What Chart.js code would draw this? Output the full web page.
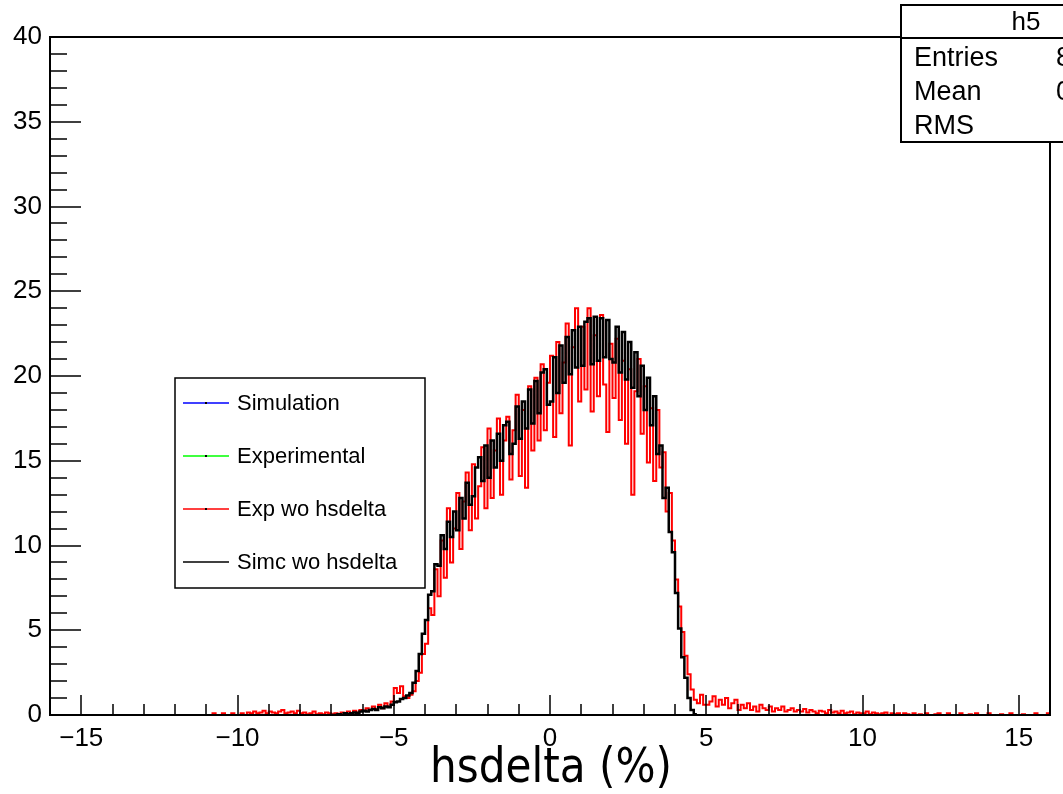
<!DOCTYPE html>
<html>
<head>
<meta charset="utf-8">
<script src="https://cdn.jsdelivr.net/npm/chart.js@4.4.1/dist/chart.umd.min.js"></script>
<style>
  html, body { margin: 0; padding: 0; background: #fff; }
  canvas { display: block; }
</style>
</head>
<body>
<canvas id="c" width="1063" height="794"></canvas>
<script>
// histogram binning (hsdelta in %)
const binWidth = 0.1;

// "Simc wo hsdelta" - counts per bin, first bin starts at simcStart
const simcStart = -7.0;
const simcCounts = [
  0, 0, 0.05, 0, 0.1, 0.05, 0.1, 0.15, 0.1, 0.2,
  0.25, 0.2, 0.3, 0.35, 0.3, 0.45, 0.4, 0.5, 0.45, 0.6,
  0.75, 0.8, 0.95, 1.0, 1.15, 1.3, 1.9, 2.6, 3.6, 4.8,
  5.6, 7.1, 7.3, 8.9, 8.8, 10.6, 9.8, 11.4, 10.5, 12.0,
  10.9, 12.8, 11.6, 13.7, 12.4, 12.9, 14.6, 15.2, 13.8, 15.9,
  14.0, 16.2, 14.6, 16.6, 15.0, 17.1, 17.3, 15.4, 16.0, 18.2,
  16.3, 18.5, 16.9, 19.2, 17.2, 19.7, 17.8, 20.2, 20.4, 18.3,
  18.5, 21.1, 19.0, 21.8, 19.6, 22.3, 20.1, 22.7, 20.5, 22.9,
  20.6, 23.2, 23.4, 20.7, 23.5, 20.9, 23.4, 21.1, 23.3, 21.0,
  20.8, 22.9, 20.2, 22.6, 19.8, 22.0, 19.3, 21.4, 18.8, 20.6,
  18.0, 19.9, 17.1, 18.8, 15.4, 15.9, 12.8, 13.4, 10.8, 9.6,
  7.2, 5.1, 3.4, 2.2, 1.0, 0.3, 0.05
];

// "Exp wo hsdelta" - counts per bin, first bin starts at expStart
const expStart = -11.0;
const expCounts = [
  0, 0, 0.1, 0, 0, 0.1, 0, 0, 0.1, 0,
  0, 0.1, 0, 0.15, 0.1, 0.2, 0.1, 0.15, 0.25, 0.1,
  0.2, 0.15, 0.1, 0.2, 0.3, 0.1, 0.15, 0.2, 0.1, 0.25,
  0.1, 0.15, 0.05, 0.1, 0.2, 0.05, 0.1, 0.05, 0.15, 0.1,
  0.05, 0.1, 0, 0.15, 0.1, 0.2, 0.1, 0.25, 0.15, 0.3,
  0.25, 0.4, 0.3, 0.5, 0.35, 0.6, 0.4, 0.7, 0.5, 0.8,
  1.6, 1.3, 1.7, 1.1, 1.0, 1.2, 1.4, 2.0, 2.5, 3.6,
  4.2, 6.3, 5.9, 8.6, 7.0, 10.3, 8.1, 12.2, 9.0, 11.0,
  13.1, 9.8, 12.6, 14.3, 10.9, 14.8, 11.6, 13.5, 15.8, 12.2,
  16.9, 12.8, 15.6, 17.5, 13.0, 16.2, 17.6, 13.9, 16.8, 18.9,
  14.1, 18.0, 13.4, 19.4, 15.6, 19.9, 16.2, 20.7, 16.8, 19.6,
  21.2, 16.4, 22.0, 17.8, 20.8, 23.1, 15.9, 21.7, 24.0, 18.5,
  22.9, 19.2, 24.0, 17.9, 22.4, 18.8, 23.6, 19.5, 16.7, 21.9,
  18.7, 22.2, 17.4, 20.9, 16.0, 20.4, 13.0, 19.1, 21.0, 16.6,
  19.4, 14.9, 18.1, 13.8, 18.0, 14.6, 15.5, 12.0, 13.1, 10.3,
  8.0, 6.4, 4.9, 3.5, 2.4, 1.5, 0.9, 0.7, 1.2, 0.6,
  0.6, 0.8, 1.1, 0.5, 0.9, 0.6, 1.0, 0.4, 0.7, 0.9,
  0.3, 0.6, 0.4, 0.7, 0.3, 0.5, 0.2, 0.6, 0.4, 0.3,
  0.5, 0.2, 0.4, 0.3, 0.5, 0.2, 0.3, 0.4, 0.2, 0.3,
  0.2, 0.35, 0.15, 0.3, 0.2, 0.1, 0.25, 0.2, 0.1, 0.3,
  0.15, 0.2, 0.1, 0.25, 0.1, 0.15, 0.2, 0.05, 0.15, 0.1,
  0.1, 0.2, 0.05, 0.15, 0.1, 0.05, 0.1, 0.15, 0, 0.1,
  0.05, 0.1, 0, 0.1, 0.05, 0, 0.1, 0, 0.05, 0,
  0.1, 0, 0, 0.05, 0.1, 0, 0, 0.1, 0, 0,
  0, 0.1, 0, 0, 0.05, 0, 0.1, 0, 0, 0,
  0.1, 0, 0, 0, 0.05, 0, 0, 0.1, 0, 0,
  0, 0.05, 0, 0, 0, 0.1, 0, 0, 0, 0.1
];

const xRange = [-16, 16];
const yRange = [0, 40];
const xTickValues = [-15, -10, -5, 0, 5, 10, 15];
const yTickValues = [0, 5, 10, 15, 20, 25, 30, 35, 40];
const majorEvery = 5;

const seriesLabels = ['Simulation', 'Experimental', 'Exp wo hsdelta', 'Simc wo hsdelta'];
const seriesColors = ['#0000ff', '#00ff00', '#ff0000', '#000000'];
const seriesMarker = [true, true, true, false];

const statsTitle = 'h5';
const statsNames = ['Entries', 'Mean', 'RMS'];
const statsValues = ['82415', '0.5012', '2.876'];
const xTitle = 'hsdelta (%)';

const FONT = '"Liberation Sans", Arial, Helvetica, sans-serif';

function histPoints(start, counts) {
  const pts = counts.map((v, i) => ({ x: start + i * binWidth, y: v }));
  pts.push({ x: start + counts.length * binWidth, y: counts[counts.length - 1] });
  return pts;
}

// ROOT-like frame: inward ticks, legend box, stats box, axis title
const rootFrame = {
  id: 'rootFrame',
  afterDatasetsDraw(chart) {
    const { ctx, chartArea: a, scales: { x, y } } = chart;
    ctx.save();
    ctx.strokeStyle = '#000';
    ctx.lineWidth = 2;
    ctx.strokeRect(a.left, a.top, a.right - a.left, a.bottom - a.top);
    ctx.lineWidth = 1.5;
    ctx.beginPath();
    for (let v = Math.ceil(x.min); v <= x.max; v++) {
      const px = Math.round(x.getPixelForValue(v));
      const len = v % majorEvery === 0 ? 20 : 11;
      ctx.moveTo(px, a.bottom);
      ctx.lineTo(px, a.bottom - len);
    }
    for (let v = Math.ceil(y.min); v <= y.max; v++) {
      const py = Math.round(y.getPixelForValue(v));
      const len = v % majorEvery === 0 ? 31 : 17;
      ctx.moveTo(a.left, py);
      ctx.lineTo(a.left + len, py);
    }
    ctx.stroke();
    ctx.restore();
  },
  afterDraw(chart) {
    const { ctx } = chart;
    ctx.save();

    // legend
    ctx.fillStyle = '#fff';
    ctx.fillRect(175, 378, 250, 210);
    ctx.strokeStyle = '#000';
    ctx.lineWidth = 1.5;
    ctx.strokeRect(175, 378, 250, 210);
    ctx.font = '22px ' + FONT;
    ctx.textBaseline = 'middle';
    ctx.textAlign = 'left';
    seriesLabels.forEach((label, i) => {
      const yy = 403 + i * 53;
      ctx.strokeStyle = seriesColors[i];
      ctx.lineWidth = 1.5;
      ctx.beginPath();
      ctx.moveTo(183, yy);
      ctx.lineTo(229, yy);
      ctx.stroke();
      if (seriesMarker[i]) {
        ctx.fillStyle = '#000';
        ctx.fillRect(205, yy - 1, 2, 2);
      }
      ctx.fillStyle = '#000';
      ctx.fillText(label, 237, yy + 1);
    });

    // stats box
    ctx.fillStyle = '#fff';
    ctx.fillRect(901, 5, 180, 137);
    ctx.strokeStyle = '#000';
    ctx.lineWidth = 2;
    ctx.strokeRect(901, 5, 180, 137);
    ctx.beginPath();
    ctx.moveTo(901, 38);
    ctx.lineTo(1063, 38);
    ctx.stroke();
    ctx.fillStyle = '#000';
    ctx.font = '26px ' + FONT;
    ctx.textAlign = 'center';
    ctx.fillText(statsTitle, 1026, 23);
    ctx.font = '27px ' + FONT;
    ctx.textAlign = 'left';
    statsNames.forEach((name, i) => {
      const yy = 59 + i * 34;
      ctx.fillText(name, 914, yy);
      if (i < 2) ctx.fillText(statsValues[i], 1056, yy);
    });

    // x axis title
    ctx.font = '48px "DejaVu Sans", sans-serif';
    ctx.textBaseline = 'alphabetic';
    ctx.textAlign = 'center';
    const w = ctx.measureText(xTitle).width;
    ctx.translate(551, 782);
    ctx.scale(242 / w, 1);
    ctx.fillText(xTitle, 0, 0);
    ctx.restore();
  }
};

new Chart(document.getElementById('c'), {
  type: 'line',
  data: {
    datasets: [
      { label: seriesLabels[0], data: [], borderColor: seriesColors[0], borderWidth: 2, order: 3 },
      { label: seriesLabels[1], data: [], borderColor: seriesColors[1], borderWidth: 2, order: 2 },
      {
        label: seriesLabels[2],
        data: histPoints(expStart, expCounts),
        borderColor: seriesColors[2],
        borderWidth: 2,
        stepped: 'before',
        order: 1,
      },
      {
        label: seriesLabels[3],
        data: histPoints(simcStart, simcCounts),
        borderColor: seriesColors[3],
        borderWidth: 2.5,
        stepped: 'before',
        order: 0,
      },
    ],
  },
  options: {
    responsive: false,
    animation: false,
    devicePixelRatio: 1,
    layout: { padding: { top: 37, right: 13, left: 0, bottom: 0 } },
    elements: { point: { radius: 0 } },
    plugins: { legend: { display: false }, tooltip: { enabled: false } },
    scales: {
      x: {
        type: 'linear',
        min: xRange[0],
        max: xRange[1],
        grid: { display: false, drawTicks: false },
        border: { display: false },
        ticks: {
          autoSkip: false,
          maxRotation: 0,
          padding: 8,
          color: '#000',
          font: { family: FONT, size: 26 },
          callback: (v) => (v < 0 ? '\u2212' + Math.abs(v) : String(v)),
        },
        afterBuildTicks: (s) => { s.ticks = xTickValues.map((v) => ({ value: v })); },
        afterFit: (s) => { s.height = 79; },
      },
      y: {
        min: yRange[0],
        max: yRange[1],
        grid: { display: false, drawTicks: false },
        border: { display: false },
        ticks: {
          padding: 8,
          color: '#000',
          font: { family: FONT, size: 26 },
        },
        afterBuildTicks: (s) => { s.ticks = yTickValues.map((v) => ({ value: v })); },
        afterFit: (s) => { s.width = 50; },
      },
    },
  },
  plugins: [rootFrame],
});
</script>
</body>
</html>
